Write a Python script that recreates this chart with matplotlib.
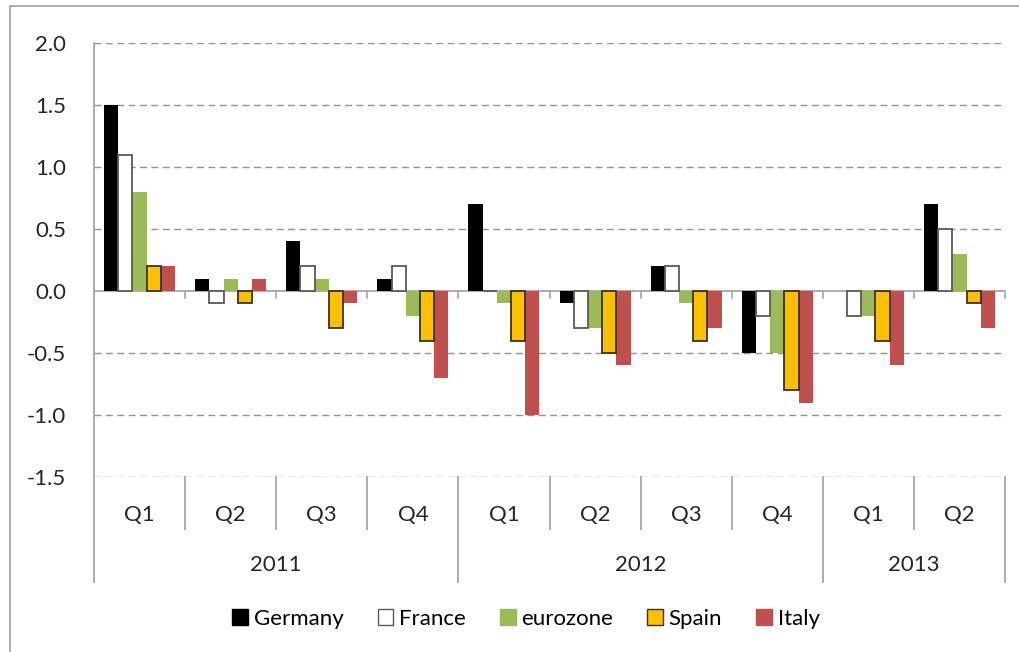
import matplotlib
matplotlib.use("Agg")
import matplotlib.pyplot as plt
import matplotlib.transforms as mtransforms
from matplotlib.patches import Rectangle, Patch
import numpy as np

plt.rcParams['font.family'] = ['Lato', 'DejaVu Sans']

# Quarterly GDP growth, % q/q
quarters = ["Q1", "Q2", "Q3", "Q4", "Q1", "Q2", "Q3", "Q4", "Q1", "Q2"]
years = ["2011", "2012", "2013"]
year_spans = [(0, 4), (4, 8), (8, 10)]

series_names = ["Germany", "France", "eurozone", "Spain", "Italy"]
germany = [1.5, 0.1, 0.4, 0.1, 0.7, -0.1, 0.2, -0.5, 0.0, 0.7]
france = [1.1, -0.1, 0.2, 0.2, 0.0, -0.3, 0.2, -0.2, -0.2, 0.5]
eurozone = [0.8, 0.1, 0.1, -0.2, -0.1, -0.3, -0.1, -0.5, -0.2, 0.3]
spain = [0.2, -0.1, -0.3, -0.4, -0.4, -0.5, -0.4, -0.8, -0.4, -0.1]
italy = [0.2, 0.1, -0.1, -0.7, -1.0, -0.6, -0.3, -0.9, -0.6, -0.3]
y_ticks = [-1.5, -1.0, -0.5, 0.0, 0.5, 1.0, 1.5, 2.0]

series = [germany, france, eurozone, spain, italy]
faces = ["#000000", "#FFFFFF", "#9BBB59", "#FFC000", "#C0504D"]
edges = ["#000000", "#595959", "#9BBB59", "#3A3226", "#C0504D"]
edge_w = [0.0, 1.3, 0.0, 1.3, 0.0]

FS = 16

W, H = 1020, 652
fig = plt.figure(figsize=(W / 100, H / 100), dpi=100)
fig.patch.set_facecolor("white")

# outer chart frame
fig.add_artist(Rectangle((10 / W, -0.05), 1.2, (652 + 40 - 13) / H,
                         transform=fig.transFigure, fill=False,
                         edgecolor="#A0A0A0", lw=1.2))

left, right, top, bottom = 94, 1005, 43, 477
ax = fig.add_axes([left / W, 1 - bottom / H, (right - left) / W, (bottom - top) / H])
ax.set_xlim(-0.5, len(quarters) - 0.5)
ax.set_ylim(-1.5, 2.0)

grid_c = "#939393"
axis_c = "#A6A6A6"
text_c = "#262626"

for v in y_ticks:
    if v != 0:
        ax.axhline(v, color=grid_c, lw=1.0, ls=(0, (5, 3.2)), zorder=1)
ax.axhline(0, color=axis_c, lw=1.3, zorder=1)

n = len(series)
bw = 0.156
x = np.arange(len(quarters))
for k, (vals, fc, ec, lw) in enumerate(zip(series, faces, edges, edge_w)):
    off = (k - (n - 1) / 2) * bw
    ax.bar(x + off, vals, width=bw, color=fc, edgecolor=ec, linewidth=lw,
           zorder=3 if lw == 0 else 4)

for s in ax.spines.values():
    s.set_visible(False)
ax.set_xticks([])
ax.set_yticks(y_ticks)
ax.set_yticklabels([f"{v:.1f}" for v in y_ticks], fontsize=FS, color=text_c)
ax.tick_params(axis="y", length=0, pad=20)

trans = mtransforms.blended_transform_factory(ax.transData, ax.transAxes)
px = 1.0 / (bottom - top)

# tick marks on the zero line at category boundaries
for b in np.arange(0.5, len(quarters), 1.0):
    ax.plot([b, b], [0, -0.06], color=axis_c, lw=1.2, zorder=2, clip_on=False)

# left axis line, continued through the category label area
ax.plot([-0.5, -0.5], [1.0, -105 * px], transform=trans, color=axis_c,
        lw=1.3, clip_on=False, zorder=2)

# category label grid
year_bounds = {s for s, e in year_spans} | {e for s, e in year_spans}
for i in range(1, len(quarters) + 1):
    b = i - 0.5
    depth = 105 if i in year_bounds else 52
    ax.plot([b, b], [0, -depth * px], transform=trans, color=axis_c, lw=1.3,
            clip_on=False, zorder=2)

for i, q in enumerate(quarters):
    ax.text(i, -38 * px, q, transform=trans, ha="center", va="center",
            fontsize=FS, color=text_c)
for (s, e), yr in zip(year_spans, years):
    ax.text((s + e - 1) / 2, -88 * px, yr, transform=trans, ha="center",
            va="center", fontsize=FS, color=text_c)

handles = [Patch(facecolor=fc, edgecolor=(ec if lw > 0 else fc), linewidth=1.0)
           for fc, ec, lw in zip(faces, edges, edge_w)]
leg = fig.legend(handles, series_names, loc="center",
                 bbox_to_anchor=(526 / W, 1 - 619 / H), ncol=5, frameon=False,
                 fontsize=FS, handlelength=0.7, handleheight=0.7,
                 handletextpad=0.25, columnspacing=1.55)
for t in leg.get_texts():
    t.set_color("#000000")

fig.savefig("out.png", dpi=100, facecolor="white")
